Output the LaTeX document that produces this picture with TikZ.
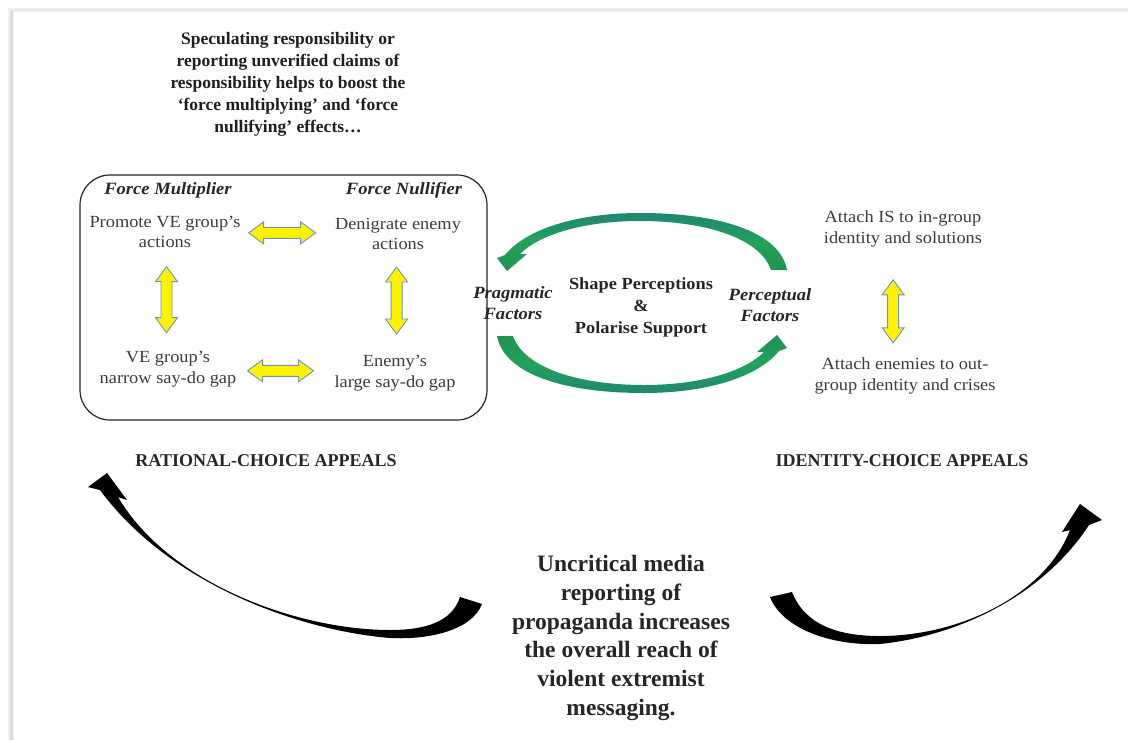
\documentclass[tikz,border=0pt]{standalone}
\usepackage{fontspec}
\setmainfont{Liberation Serif}
\newfontfamily\bodyf[FakeStretch=1.08]{Liberation Serif}
\usetikzlibrary{calc}

\definecolor{textgray}{HTML}{3C3C3C}
\definecolor{arrowedge}{HTML}{7391BF}
\definecolor{arcgreen}{HTML}{23A25A}
\definecolor{arcteal}{HTML}{1E6F86}

\tikzset{
  bodytext/.style={font=\bodyf\fontsize{17}{20.5}\selectfont, text=textgray, align=center, inner sep=0pt},
  headit/.style={font=\bodyf\bfseries\itshape\fontsize{17.2}{21}\selectfont, text=black!85, align=center, inner sep=0pt},
  centrebold/.style={font=\bodyf\bfseries\fontsize{17}{22}\selectfont, text=black!85, align=center, inner sep=0pt},
  topnote/.style={font=\bfseries\fontsize{17.5}{22}\selectfont, text=black!88, align=center, inner sep=0pt},
  appeal/.style={font=\bfseries\fontsize{18}{22}\selectfont, text=black!85, inner sep=0pt},
  mediatext/.style={font=\bfseries\fontsize{23.5}{28.8}\selectfont, text=black!85, align=center, inner sep=0pt},
  yellowarrow/.style={fill=yellow, draw=arrowedge, line width=0.9pt, line join=miter},
  greenarc/.style={top color=arcteal!55!arcgreen, bottom color=arcgreen!90!black, middle color=arcgreen},
  greenarclow/.style={top color=arcgreen!90!black, bottom color=arcteal!55!arcgreen, middle color=arcgreen},
  pics/dblarrow/.style={code={
    \path[yellowarrow] (-#1/2,0) -- (-#1/2+15,11) -- (-#1/2+15,5.5) -- (#1/2-15,5.5)
      -- (#1/2-15,11) -- (#1/2,0) -- (#1/2-15,-11) -- (#1/2-15,-5.5)
      -- (-#1/2+15,-5.5) -- (-#1/2+15,-11) -- cycle;
  }},
}

\begin{document}
\begin{tikzpicture}[x=1pt,y=-1pt]
\useasboundingbox (0,0) rectangle (1128,740);
\fill[white] (0,0) rectangle (1128,740);

% page edge shadow
\fill[black!5] (8,8) rectangle (1128,12);
\fill[black!10] (9,9) rectangle (1128,11);
\fill[black!6] (8,9) rectangle (14,740);
\fill[black!14] (10,10) rectangle (12.5,740);

% introductory note
\node[topnote] (note) at (288,84) {Speculating responsibility or\\reporting unverified claims of\\responsibility helps to boost the\\‘force multiplying’ and ‘force\\nullifying’ effects…};

% rational-choice panel
\node[draw=black!85, line width=1.2pt, rounded corners=30pt, minimum width=407pt, minimum height=245pt] (panel) at (283.5,297.5) {};
\node[headit] (fm) at (168,190) {Force Multiplier};
\node[headit] (fn) at (404,190) {Force Nullifier};
\node[bodytext] (pa) at (165,232) {Promote VE group’s\\actions};
\node[bodytext] (da) at (398,234) {Denigrate enemy\\actions};
\node[bodytext] (vg) at (168,369) {VE group’s\\narrow say-do gap};
\node[bodytext] (eg) at (395,373) {Enemy’s\\large say-do gap};

\pic at ($(pa.east)!.44!(da.west)$) {dblarrow=67};
\pic at ($(vg.east)!.45!(eg.west)$) {dblarrow=66};
\pic[rotate=90] at ($(pa.south)!.5!(vg.north)$) {dblarrow=66};
\pic[rotate=90] at ($(da.south)!.48!(eg.north)$) {dblarrow=67};

% identity side
\node[bodytext] (ais) at (903,229) {Attach IS to in-group\\identity and solutions};
\node[bodytext] (aen) at (905,376) {Attach enemies to out-\\group identity and crises};
\pic[rotate=90] at ($(ais.south)!.58!(aen.north)+(-11,0)$) {dblarrow=63};

% centre cycle
\node[headit] (prag) at (513,303) {Pragmatic\\Factors};
\node[centrebold] (shape) at (641,307) {Shape Perceptions\\\&\\Polarise Support};
\node[headit] (perc) at (770,305) {Perceptual\\Factors};

\path[greenarc]
  (787,270) .. controls (780,232) and (720,213) .. (640,213)
  .. controls (575,213) and (525,230) .. (505,255)
  -- (497,258) -- (507,271) -- (527,254) -- (520,254)
  .. controls (540,234) and (585,221) .. (640,221)
  .. controls (705,221) and (760,238) .. (771,270) -- cycle;
\begin{scope}[rotate around={180:(642,303)}]
\path[greenarclow]
  (787,270) .. controls (780,232) and (720,213) .. (640,213)
  .. controls (575,213) and (525,230) .. (505,255)
  -- (497,258) -- (507,271) -- (527,254) -- (520,254)
  .. controls (540,234) and (585,221) .. (640,221)
  .. controls (705,221) and (760,238) .. (771,270) -- cycle;
\end{scope}

% appeal headings
\node[appeal] (rat) at (266,461) {RATIONAL-CHOICE APPEALS};
\node[appeal] (idc) at (902,461) {IDENTITY-CHOICE APPEALS};

% media reporting
\node[mediatext] (unc) at (621,638) {Uncritical media\\reporting of\\propaganda increases\\the  overall reach of\\violent extremist\\messaging.};

% curved arrows towards both appeals
\fill[black]
  (460,597) .. controls (452,622) and (425,630) .. (390,630)
  .. controls (300,630) and (170,585) .. (118,497)
  -- (127,500) -- (107,473) -- (88,487) -- (100,490)
  .. controls (170,585) and (300,630.5) .. (390,638)
  .. controls (430,640) and (472,630) .. (482,604) -- cycle;
\fill[black]
  (792,592) .. controls (805,625) and (838,636) .. (880,636)
  .. controls (960,636) and (1045,595) .. (1070,530)
  -- (1062,532) -- (1080,504) -- (1102,520) -- (1089,525)
  .. controls (1044,594) and (961,635.5) .. (880,644)
  .. controls (830,646) and (782,628) .. (770,597) -- cycle;
\end{tikzpicture}
\end{document}
